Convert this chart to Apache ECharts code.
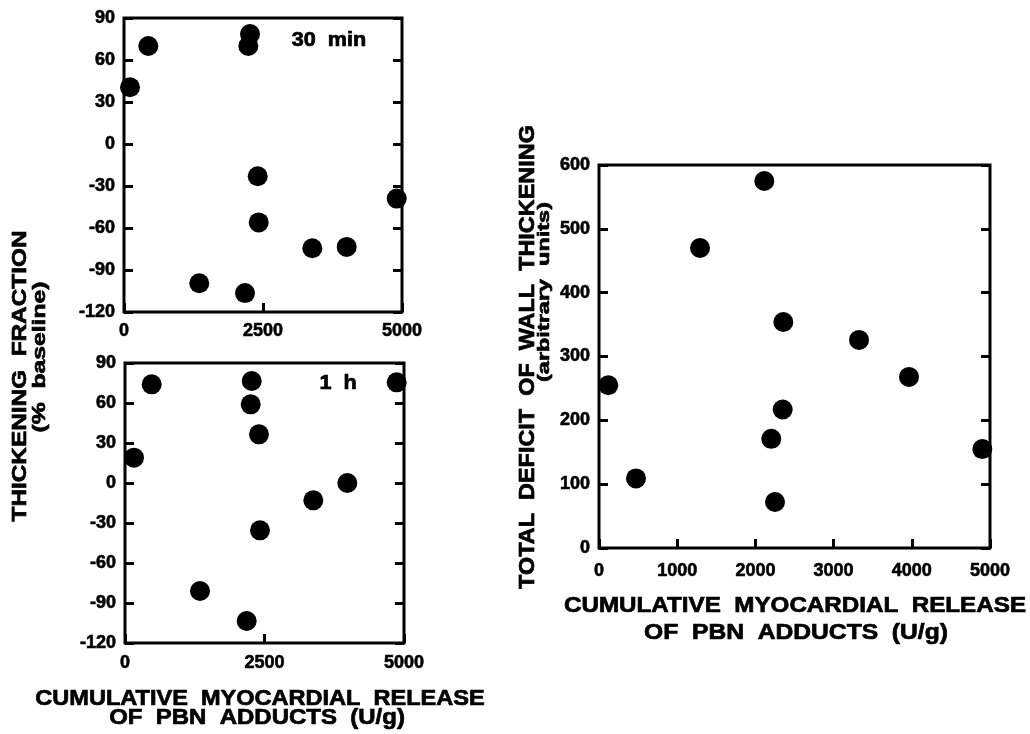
<!DOCTYPE html>
<html>
<head>
<meta charset="utf-8">
<script src="https://cdn.jsdelivr.net/npm/echarts@6/dist/echarts.min.js"></script>
<style>
  html, body { margin: 0; padding: 0; background: #fff; }
  #chart { width: 1030px; height: 734px; }
</style>
</head>
<body>
<div id="chart"></div>
<script>
// 30 min panel: [release U/g, thickening fraction %]
const release30 = [108, 437, 2266, 2236, 2405, 2423, 3387, 4005, 4905, 1354, 2176]
const thick30 = [40.5, 70, 78.5, 70, -23, -56, -74.5, -73.5, -39, -99.5, -106.5]

// 1 h panel
const release1h = [478, 2271, 2253, 2401, 161, 3984, 3375, 2419, 1344, 2181, 4869]
const thick1h = [74, 76.5, 59, 36.5, 19, 0, -13, -35.5, -81, -103.5, 75.5]

// right panel: total deficit of wall thickening
const releaseDef = [119, 473, 1292, 2114, 2357, 3325, 3964, 2349, 2203, 2251, 4902]
const deficit = [255, 109, 470, 575, 354, 326, 268, 217, 171, 72, 155]

const leftXTicks = { min: 0, max: 5000, interval: 2500 }
const leftYTicks = { min: -120, max: 90, interval: 30 }
const rightXTicks = { min: 0, max: 5000, interval: 1000 }
const rightYTicks = { min: 0, max: 600, interval: 100 }

const FONT = 'Liberation Sans'

const tick = { show: true, inside: true, length: 9, lineStyle: { color: '#000', width: 3 } }
const label = (margin) => ({
  color: '#000', fontFamily: FONT, fontWeight: 'bold', fontSize: 18, margin,
  textBorderColor: '#000', textBorderWidth: 0.6,
  formatter: (v) => String(v)
})

const xAxisOf = (gridIndex, t, margin) => ({
  gridIndex, type: 'value', min: t.min, max: t.max, interval: t.interval,
  axisLine: { show: false, onZero: false }, axisTick: tick, splitLine: { show: false },
  axisLabel: label(margin)
})
const yAxisOf = (gridIndex, t, position) => ({
  gridIndex, type: 'value', position, min: t.min, max: t.max, interval: t.interval,
  axisLine: { show: false, onZero: false }, axisTick: tick, splitLine: { show: false },
  axisLabel: position === 'left' ? label(9) : { show: false }
})

const pairs = (xs, ys) => xs.map((x, i) => [x, ys[i]])

const dots = (idx, data) => ({
  type: 'scatter', xAxisIndex: idx, yAxisIndex: idx * 2,
  symbol: 'circle', symbolSize: 20, itemStyle: { color: '#000', opacity: 1 },
  data, z: 3
})

// text helper (stretched a bit horizontally like the original typesetting)
const txt = (text, x, y, size, sx, rot) => ({
  type: 'text', x, y, rotation: rot || 0, scaleX: sx, z: 10,
  style: {
    text, x: 0, y: 0, fill: '#000', stroke: '#000', lineWidth: 0.7,
    font: `bold ${size}px "${FONT}"`,
    textAlign: 'center', textVerticalAlign: 'middle'
  }
})

const chart = echarts.init(document.getElementById('chart'))
chart.setOption({
  backgroundColor: '#fff',
  animation: false,
  grid: [
    { left: 124, top: 18, width: 278, height: 294 },
    { left: 125, top: 363, width: 279, height: 280 },
    { left: 599, top: 165, width: 391, height: 383 }
  ].map(g => Object.assign(g, { show: true, borderColor: '#000', borderWidth: 3, backgroundColor: 'transparent' })),
  xAxis: [
    xAxisOf(0, leftXTicks, 10),
    xAxisOf(1, leftXTicks, 11),
    xAxisOf(2, rightXTicks, 14)
  ],
  yAxis: [
    yAxisOf(0, leftYTicks, 'left'), yAxisOf(0, leftYTicks, 'right'),
    yAxisOf(1, leftYTicks, 'left'), yAxisOf(1, leftYTicks, 'right'),
    yAxisOf(2, rightYTicks, 'left'), yAxisOf(2, rightYTicks, 'right')
  ],
  series: [
    dots(0, pairs(release30, thick30)),
    dots(1, pairs(release1h, thick1h)),
    dots(2, pairs(releaseDef, deficit))
  ],
  graphic: [
    txt('30  min', 329, 40, 20, 1.08),
    txt('1  h', 338, 383, 20, 1.08),
    txt('THICKENING  FRACTION', 20, 376, 21, 1.16, Math.PI / 2),
    txt('(%  baseline)', 40, 357, 19, 1.3, Math.PI / 2),
    txt('CUMULATIVE  MYOCARDIAL  RELEASE', 260, 699, 22, 1.07),
    txt('OF  PBN  ADDUCTS  (U/g)', 257, 718, 22, 1.09),
    txt('CUMULATIVE  MYOCARDIAL  RELEASE', 795, 606, 22, 1.1),
    txt('OF  PBN  ADDUCTS  (U/g)', 796, 633, 22, 1.12),
    txt('TOTAL  DEFICIT  OF  WALL  THICKENING', 528, 357, 22, 1.065, Math.PI / 2),
    txt('(arbitrary  units)', 544, 292, 17, 1.38, Math.PI / 2)
  ]
})
</script>
</body>
</html>
